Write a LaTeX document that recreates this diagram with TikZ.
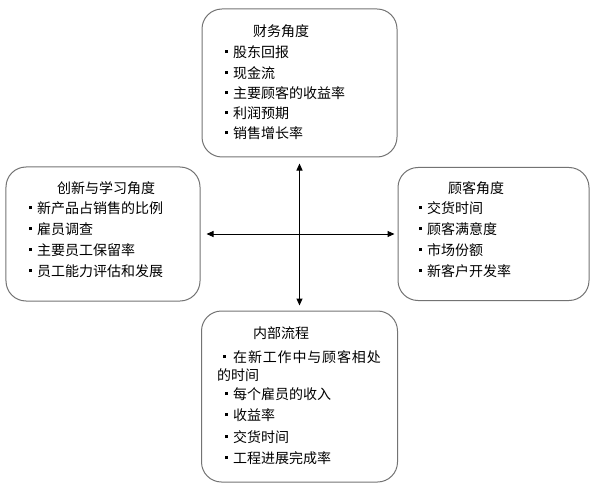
\documentclass[tikz,border=0pt]{standalone}
\usepackage{fontspec}
\setmainfont{Noto Sans CJK SC}
\usetikzlibrary{arrows.meta}
\newcommand\sqb{\raisebox{0.3em}{\rule{3bp}{3bp}}\hspace{5bp}}
\tikzset{
  box/.style={draw=black!55, line width=1bp, rounded corners=20bp, inner sep=0pt},
  txt/.style={anchor=west, inner sep=0pt, font=\fontsize{14bp}{16bp}\selectfont},
  conn/.style={line width=1bp, {Triangle[length=7bp,width=6bp]}-{Triangle[length=7bp,width=6bp]}}
}
\begin{document}
\begin{tikzpicture}[x=1bp,y=-1bp]
\useasboundingbox (0,0) rectangle (591,485);
% boxes
\node[box, minimum width=195bp, minimum height=148bp] (fin) at (299.5,83) {};
\node[box, minimum width=194bp, minimum height=134bp] (lrn) at (103,234) {};
\node[box, minimum width=191bp, minimum height=133bp] (cus) at (493.5,234) {};
\node[box, minimum width=196bp, minimum height=171bp] (int) at (299.5,396.5) {};
% connectors
\draw[conn, shorten <=6bp, shorten >=5bp] (fin.south) -- (int.north);
\draw[conn, shorten <=6bp, shorten >=3bp] (lrn.east) -- (cus.west);
% finance
\node[txt] (f0) at (253,31) {财务角度};
\node[txt] (f1) at (225,52) {\sqb 股东回报};
\node[txt] (f2) at (225,73) {\sqb 现金流};
\node[txt] (f3) at (225,93) {\sqb 主要顾客的收益率};
\node[txt] (f4) at (225,113) {\sqb 利润预期};
\node[txt] (f5) at (225,133) {\sqb 销售增长率};
% learning
\node[txt] (l0) at (57,188) {创新与学习角度};
\node[txt] (l1) at (29,208) {\sqb 新产品占销售的比例};
\node[txt] (l2) at (29,229) {\sqb 雇员调查};
\node[txt] (l3) at (29,250) {\sqb 主要员工保留率};
\node[txt] (l4) at (29,271) {\sqb 员工能力评估和发展};
% customer
\node[txt] (c0) at (448,188) {顾客角度};
\node[txt] (c1) at (419,208) {\sqb 交货时间};
\node[txt] (c2) at (419,229) {\sqb 顾客满意度};
\node[txt] (c3) at (419,250) {\sqb 市场份额};
\node[txt] (c4) at (419,271) {\sqb 新客户开发率};
% internal
\node[txt] (i0) at (253,333) {内部流程};
\node[txt] (i1) at (223,357) {\sqb\hspace{2bp}\addfontfeature{LetterSpace=6}在新工作中与顾客相处};
\node[txt] (i1b) at (217,375) {的时间};
\node[txt] (i2) at (225,394) {\sqb 每个雇员的收入};
\node[txt] (i3) at (225,415) {\sqb 收益率};
\node[txt] (i4) at (225,437) {\sqb 交货时间};
\node[txt] (i5) at (225,458) {\sqb 工程进展完成率};
\end{tikzpicture}
\end{document}
